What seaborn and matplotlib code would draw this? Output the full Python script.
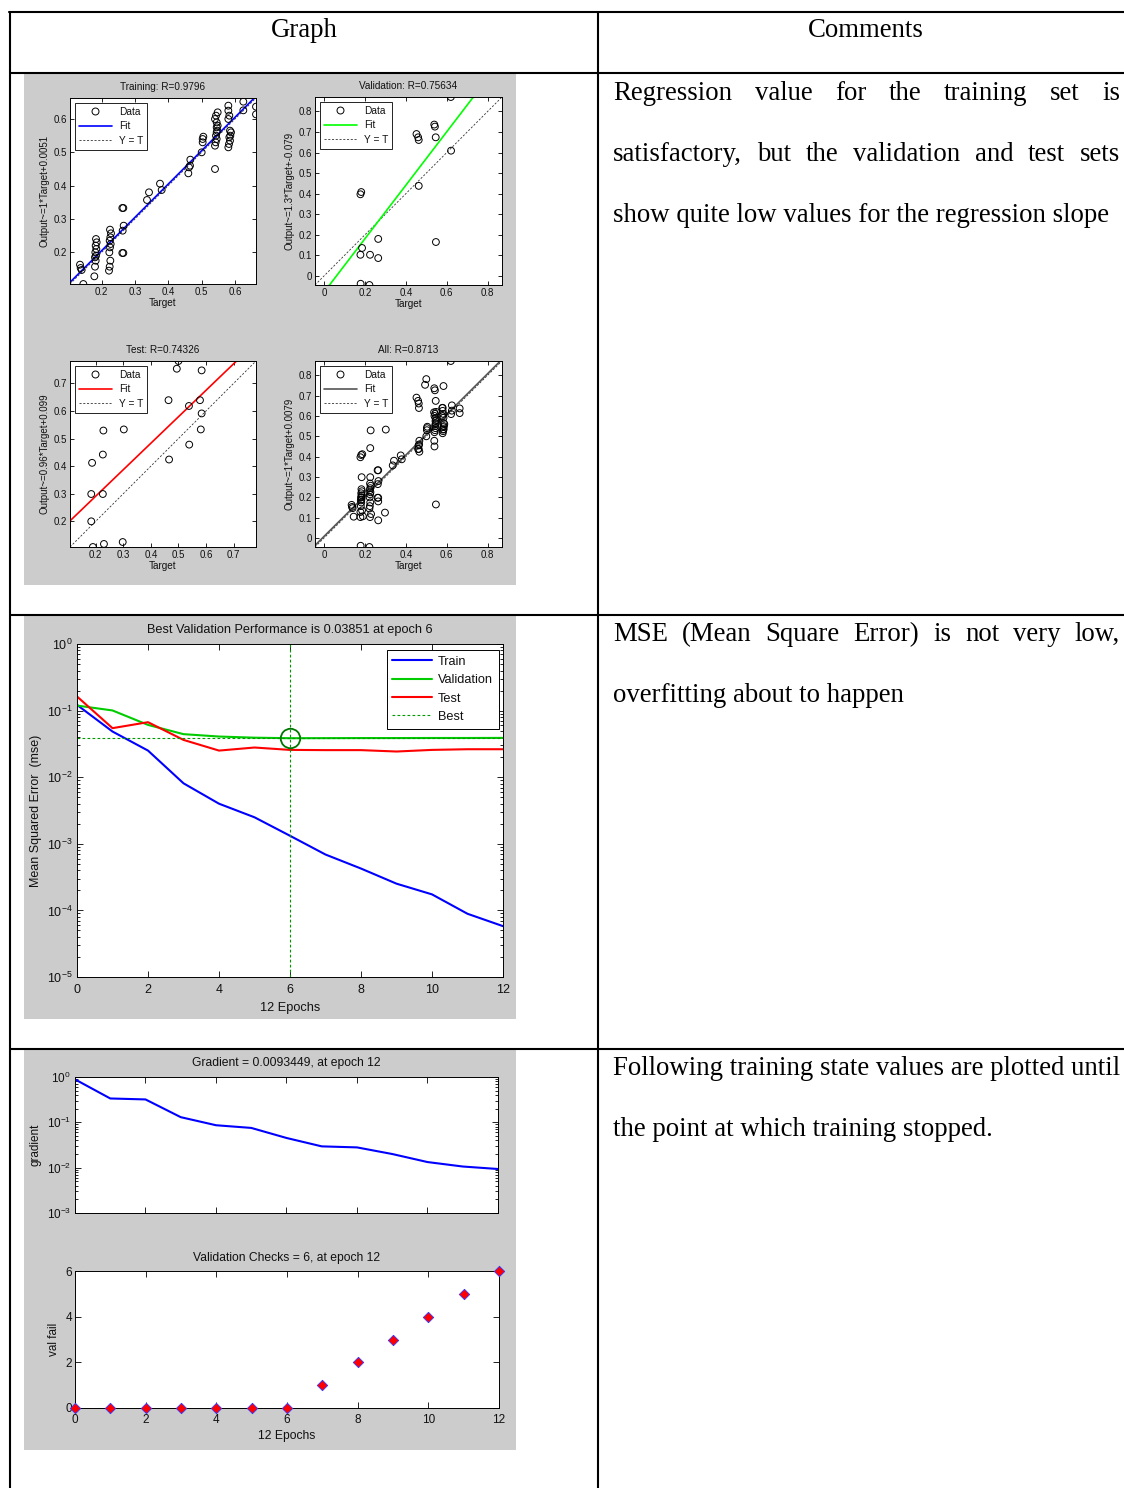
import numpy as np
import matplotlib
matplotlib.use("Agg")
from matplotlib import pyplot as plt
from matplotlib.lines import Line2D
from matplotlib.patches import Rectangle
from matplotlib.ticker import FuncFormatter, LogLocator, NullFormatter
import seaborn as sns

# ---------------- values ----------------
# regression: Training
train_t = [0.135, 0.137, 0.140, 0.145,
           0.178, 0.180, 0.182, 0.180, 0.183, 0.181, 0.184, 0.182, 0.185, 0.183,
           0.222, 0.224, 0.226, 0.223, 0.225, 0.227, 0.224, 0.226, 0.228, 0.225,
           0.262, 0.265, 0.263, 0.266, 0.262, 0.265,
           0.336, 0.342, 0.375, 0.380,
           0.460, 0.462, 0.465, 0.466,
           0.500, 0.503, 0.503, 0.505,
           0.540, 0.540, 0.542, 0.545, 0.543, 0.545, 0.547, 0.545, 0.548, 0.545, 0.540, 0.543, 0.548,
           0.580, 0.582, 0.585, 0.583, 0.586, 0.588, 0.585, 0.580, 0.583, 0.580, 0.580,
           0.625, 0.625, 0.663, 0.663]
train_o = [0.163, 0.153, 0.147, 0.105,
           0.128, 0.157, 0.175, 0.185, 0.190, 0.200, 0.210, 0.220, 0.230, 0.240,
           0.145, 0.157, 0.175, 0.200, 0.215, 0.225, 0.235, 0.245, 0.257, 0.268,
           0.198, 0.198, 0.265, 0.280, 0.333, 0.333,
           0.357, 0.380, 0.406, 0.387,
           0.437, 0.455, 0.460, 0.478,
           0.500, 0.530, 0.540, 0.547,
           0.450, 0.520, 0.530, 0.540, 0.550, 0.560, 0.565, 0.575, 0.580, 0.590, 0.600, 0.610, 0.620,
           0.515, 0.525, 0.535, 0.545, 0.550, 0.560, 0.565, 0.600, 0.610, 0.625, 0.640,
           0.652, 0.626, 0.637, 0.614]

# regression: Validation
val_t = [0.620, 0.452, 0.460, 0.463, 0.539, 0.542, 0.546, 0.621, 0.463, 0.182,
         0.178, 0.186, 0.178, 0.225, 0.265, 0.265, 0.547, 0.179, 0.222]
val_o = [0.870, 0.690, 0.674, 0.661, 0.736, 0.726, 0.674, 0.609, 0.438, 0.408,
         0.397, 0.136, 0.103, 0.103, 0.180, 0.087, 0.165, -0.038, -0.044]

# regression: Test
test_t = [0.500, 0.494, 0.584, 0.464, 0.578, 0.538, 0.584, 0.228, 0.302, 0.581,
          0.226, 0.539, 0.187, 0.466, 0.184, 0.226, 0.184, 0.190, 0.230, 0.298]
test_o = [0.781, 0.753, 0.747, 0.639, 0.639, 0.618, 0.591, 0.529, 0.533, 0.533,
          0.442, 0.478, 0.412, 0.424, 0.299, 0.299, 0.200, 0.107, 0.118, 0.125]

# fitted lines (slope, intercept) from the axis labels
fit_train = (1.0, 0.0051)
fit_val = (1.3, -0.079)
fit_test = (0.96, 0.099)
fit_all = (1.0, 0.0079)

# performance curves per epoch
epochs = list(range(13))
perf_train = [0.122, 0.0485, 0.0251, 0.0081, 0.0040, 0.0025, 0.00132,
              0.00069, 0.000425, 0.000252, 0.000174, 0.000089, 0.000058]
perf_val = [0.119, 0.1005, 0.061, 0.0443, 0.0408, 0.0392, 0.03851,
            0.0386, 0.0387, 0.0387, 0.0388, 0.0388, 0.0389]
perf_test = [0.163, 0.0545, 0.067, 0.0363, 0.0251, 0.0279, 0.0257,
             0.0255, 0.0255, 0.0243, 0.0257, 0.0263, 0.0263]
best_epoch = 6
best_perf = 0.03851

# training state
gradient = [0.887, 0.336, 0.320, 0.130, 0.0863, 0.0753, 0.0452,
            0.0295, 0.0280, 0.0200, 0.0133, 0.0106, 0.0093449]
val_fail = [0, 0, 0, 0, 0, 0, 0, 1, 2, 3, 4, 5, 6]

comments1 = ["Regression value for the training set is",
             "satisfactory, but the validation and test sets",
             "show quite low values for the regression slope"]
comments2 = ["MSE (Mean Square Error) is not very low,",
             "overfitting about to happen"]
comments3 = ["Following training state values are plotted until",
             "the point at which training stopped."]

# ---------------- styling ----------------
sns.set_style("ticks")
plt.rcParams['font.family'] = ['Liberation Sans', 'DejaVu Sans']
plt.rcParams['mathtext.fontset'] = 'custom'
plt.rcParams['mathtext.rm'] = 'Liberation Sans'
plt.rcParams['mathtext.it'] = 'Liberation Sans:italic'
plt.rcParams['axes.edgecolor'] = 'k'
plt.rcParams['axes.linewidth'] = 0.7
plt.rcParams['text.color'] = '#111111'
plt.rcParams['axes.labelcolor'] = '#111111'
plt.rcParams['xtick.color'] = 'k'
plt.rcParams['ytick.color'] = 'k'
plt.rcParams['xtick.labelcolor'] = '#111111'
plt.rcParams['ytick.labelcolor'] = '#111111'

SERIF = ['Liberation Serif', 'DejaVu Serif']
GRAY = '#cccccc'
W, H = 1124, 1488
fig = plt.figure(figsize=(W / 100, H / 100), dpi=100)


def px_axes(x0, y0, x1, y1):
    return fig.add_axes([x0 / W, 1 - y1 / H, (x1 - x0) / W, (y1 - y0) / H])


# background: table and grey figure panels
bg = fig.add_axes([0, 0, 1, 1])
bg.set_xlim(0, W)
bg.set_ylim(H, 0)
bg.axis('off')
for (x, y, w, h) in [(24, 74, 492, 511), (24, 616, 492, 403), (24, 1050, 492, 400)]:
    bg.add_patch(Rectangle((x, y), w, h, facecolor=GRAY, lw=0))
bg.plot([9, W], [12, 12], color='k', lw=1.5)
for yy in [73, 615, 1049]:
    bg.plot([10, W], [yy, yy], color='k', lw=1.5)
bg.plot([10, 10], [12, H], color='k', lw=1.5)
bg.plot([598, 598], [12, H], color='k', lw=1.5)

renderer = fig.canvas.get_renderer()

# size the serif text so the un-justified full line spans the column as in the picture
probe = bg.text(0, 0, comments3[0], fontsize=16, family=SERIF)
FS = 16 * 507 / probe.get_window_extent(renderer).width
probe.remove()

bg.text(304, 37, "Graph", ha='center', va='baseline', fontsize=FS, family=SERIF, color='k')
bg.text(866, 37, "Comments", ha='center', va='baseline', fontsize=FS, family=SERIF, color='k')


def justify(line, y, x0=613, x1=1120):
    words = line.split()
    txts = [bg.text(0, y, w, fontsize=FS, family=SERIF, va='baseline', color='k') for w in words]
    widths = [t.get_window_extent(renderer).width for t in txts]
    gap = (x1 - x0 - sum(widths)) / (len(words) - 1)
    x = x0
    for t, w in zip(txts, widths):
        t.set_x(x)
        x += w + gap


def plain(line, y, x0=613):
    bg.text(x0, y, line, fontsize=FS, family=SERIF, va='baseline', color='k')


justify(comments1[0], 100)
justify(comments1[1], 161)
plain(comments1[2], 222)
justify(comments2[0], 641)
plain(comments2[1], 702)
plain(comments3[0], 1075)
plain(comments3[1], 1136)


# ---------------- regression panels ----------------
def gfmt(v, pos):
    return "%g" % round(v, 3)


def reg_panel(box, t, o, fit, fit_color, title, ylab, xticks, yticks):
    ax = px_axes(*box)
    lo = min(min(t), min(o))
    hi = max(max(t), max(o))
    lim = np.array([lo, hi])
    sns.lineplot(x=lim, y=lim, ax=ax, color='#333333', lw=0.6, linestyle=(0, (2.5, 2)))
    sns.lineplot(x=lim, y=fit[0] * lim + fit[1], ax=ax, color=fit_color, lw=1.2)
    sns.scatterplot(x=t, y=o, ax=ax, marker='o', s=24, facecolor='none',
                    edgecolor='k', linewidth=0.7, zorder=3)
    ax.set_xlim(lo, hi)
    ax.set_ylim(lo, hi)
    ax.set_xticks(xticks)
    ax.set_yticks(yticks)
    ax.xaxis.set_major_formatter(FuncFormatter(gfmt))
    ax.yaxis.set_major_formatter(FuncFormatter(gfmt))
    ax.tick_params(direction='in', top=True, right=True, labelsize=7, length=3, width=0.6, pad=2)
    ax.set_title(title, fontsize=7.2, pad=6)
    ax.set_xlabel("Target", fontsize=7.2, labelpad=1)
    ax.set_ylabel(ylab, fontsize=7, labelpad=3)
    handles = [Line2D([], [], ls='none', marker='o', mfc='none', mec='k', ms=5, mew=0.7),
               Line2D([], [], color=fit_color, lw=1.2),
               Line2D([], [], color='#333333', lw=0.6, ls=(0, (2.5, 2)))]
    leg = ax.legend(handles, ["Data", "Fit", "Y = T"], loc='upper left', fontsize=7.3,
                    frameon=True, fancybox=False, edgecolor='k', framealpha=1,
                    handlelength=3.3, labelspacing=0.45, borderpad=0.4,
                    borderaxespad=0.45, handletextpad=0.7)
    leg.get_frame().set_linewidth(0.6)
    return ax


val_ticks = [0, 0.2, 0.4, 0.6, 0.8]
val_yticks = [0, 0.1, 0.2, 0.3, 0.4, 0.5, 0.6, 0.7, 0.8]
reg_panel((70, 98, 256, 284), train_t, train_o, fit_train, '#0000ff',
          "Training: R=0.9796", "Output~=1*Target+0.0051",
          [0.2, 0.3, 0.4, 0.5, 0.6], [0.2, 0.3, 0.4, 0.5, 0.6])
reg_panel((315, 97, 502, 285), val_t, val_o, fit_val, '#00ff00',
          "Validation: R=0.75634", "Output~=1.3*Target+-0.079", val_ticks, val_yticks)
reg_panel((70, 361, 256, 547), test_t, test_o, fit_test, '#ff0000',
          "Test: R=0.74326", "Output~=0.96*Target+0.099",
          [0.2, 0.3, 0.4, 0.5, 0.6, 0.7], [0.2, 0.3, 0.4, 0.5, 0.6, 0.7])
reg_panel((315, 361, 502, 547), train_t + val_t + test_t, train_o + val_o + test_o,
          fit_all, '#555555', "All: R=0.8713", "Output~=1*Target+0.0079",
          val_ticks, val_yticks)


# ---------------- performance panel ----------------
def log_ticks(ax, labelsize):
    ax.yaxis.set_major_locator(LogLocator(base=10, numticks=10))
    ax.yaxis.set_minor_locator(LogLocator(base=10, subs=np.arange(2, 10), numticks=10))
    ax.yaxis.set_minor_formatter(NullFormatter())
    ax.tick_params(which='both', direction='in', top=True, right=True, labelsize=labelsize, width=0.6)
    ax.tick_params(which='major', length=4, pad=3)
    ax.tick_params(which='minor', length=2)


ax = px_axes(77, 644, 503, 977)
GREEN = '#00cc00'
BEST = '#009900'
sns.lineplot(x=epochs, y=perf_train, ax=ax, color='#0000ff', lw=1.5)
sns.lineplot(x=epochs, y=perf_val, ax=ax, color=GREEN, lw=1.5)
sns.lineplot(x=epochs, y=perf_test, ax=ax, color='#ff0000', lw=1.5)
ax.set_yscale('log')
ax.set_xlim(0, 12)
ax.set_ylim(1e-5, 1)
ax.axhline(best_perf, color=BEST, lw=0.8, ls=(0, (2.5, 2)))
ax.axvline(best_epoch, color=BEST, lw=0.8, ls=(0, (2.5, 2)))
ax.plot([best_epoch], [best_perf], marker='o', ms=14, mfc='none', mec='#007700', mew=1.3,
        clip_on=False, zorder=5)
ax.set_xticks(range(0, 13, 2))
log_ticks(ax, 9)
ax.tick_params(axis='x', which='major', pad=5)
ax.set_title("Best Validation Performance is 0.03851 at epoch 6", fontsize=9.2, pad=8)
ax.set_xlabel("12 Epochs", fontsize=9.2, labelpad=4)
ax.set_ylabel("Mean Squared Error  (mse)", fontsize=9, labelpad=4)
handles = [Line2D([], [], color='#0000ff', lw=1.5), Line2D([], [], color=GREEN, lw=1.5),
           Line2D([], [], color='#ff0000', lw=1.5), Line2D([], [], color=BEST, lw=0.8, ls=(0, (2.5, 2)))]
leg = ax.legend(handles, ["Train", "Validation", "Test", "Best"], loc='upper right',
                bbox_to_anchor=(1 - 4 / 426, 1 - 6 / 333), borderaxespad=0, fontsize=9.2,
                frameon=True, fancybox=False, edgecolor='k', framealpha=1,
                handlelength=3.1, labelspacing=0.5, borderpad=0.45, handletextpad=0.5)
leg.get_frame().set_linewidth(0.7)

# ---------------- training state panel ----------------
ax = px_axes(75, 1077, 498, 1213)
sns.lineplot(x=epochs, y=gradient, ax=ax, color='#0000ff', lw=1.5)
ax.set_yscale('log')
ax.set_xlim(0, 12)
ax.set_ylim(1e-3, 1)
ax.set_xticks(range(0, 13, 2))
ax.set_xticklabels([])
log_ticks(ax, 8.5)
ax.set_title("Gradient = 0.0093449, at epoch 12", fontsize=8.7, pad=8)
ax.set_ylabel("gradient", fontsize=8.5, labelpad=4)
ax.set_xlabel("")

ax = px_axes(75, 1271, 499, 1408)
sns.scatterplot(x=epochs, y=val_fail, ax=ax, marker='D', s=28, facecolor='#ff0000',
                edgecolor='#3333ff', linewidth=0.6, clip_on=False, zorder=5)
ax.set_xlim(0, 12)
ax.set_ylim(0, 6)
ax.set_xticks(range(0, 13, 2))
ax.set_yticks(range(0, 7, 2))
ax.tick_params(direction='in', top=True, right=True, labelsize=8.5, length=4, width=0.6, pad=2)
ax.tick_params(axis='x', pad=4)
ax.set_title("Validation Checks = 6, at epoch 12", fontsize=8.7, pad=7)
ax.set_xlabel("12 Epochs", fontsize=8.7, labelpad=3)
ax.set_ylabel("val fail", fontsize=8.5, labelpad=4)

fig.savefig("out.png", dpi=100, facecolor='white')
